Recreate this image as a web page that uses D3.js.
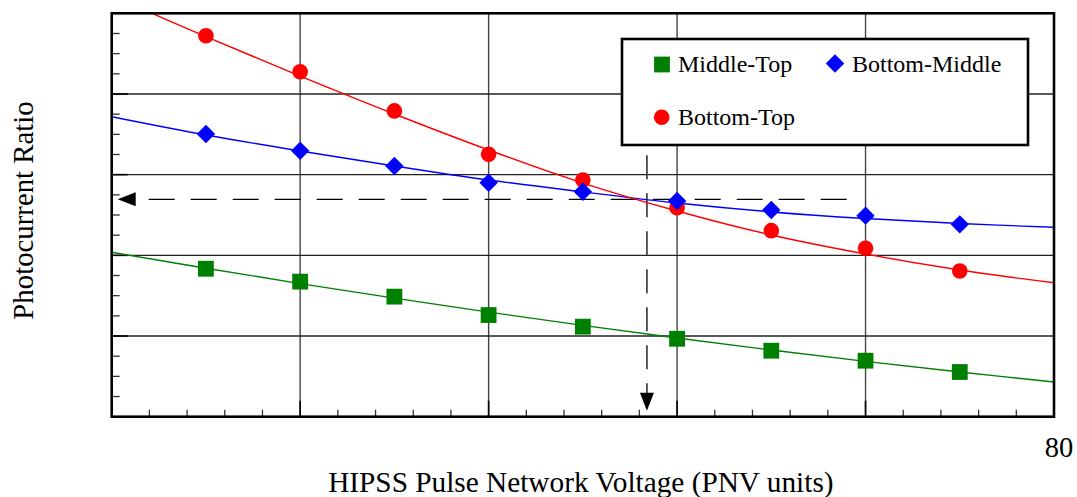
<!DOCTYPE html>
<html><head><meta charset="utf-8">
<script src="https://cdn.jsdelivr.net/npm/d3@7"></script>
<style>
html,body{margin:0;padding:0;background:#fff;}
svg{display:block;font-family:"Liberation Serif","Times New Roman",serif;}
</style></head>
<body><svg id="chart" width="1077" height="497"></svg>
<script>
// ---- data ----
const xValues = [35, 40, 45, 50, 55, 60, 65, 70, 75];
const middleTop    = [0.917, 0.837, 0.744, 0.630, 0.558, 0.483, 0.409, 0.347, 0.277];
const bottomMiddle = [1.752, 1.648, 1.554, 1.450, 1.394, 1.337, 1.281, 1.246, 1.192];
const bottomTop    = [2.361, 2.138, 1.895, 1.626, 1.467, 1.295, 1.153, 1.044, 0.903];
const fitX = [30, 35, 40, 45, 50, 55, 60, 65, 70, 75, 80];
const fitMiddleTop    = [1.019, 0.920, 0.825, 0.735, 0.648, 0.566, 0.488, 0.413, 0.343, 0.277, 0.215];
const fitBottomMiddle = [1.859, 1.746, 1.647, 1.554, 1.467, 1.393, 1.324, 1.269, 1.228, 1.197, 1.174];
const fitBottomTop    = [2.610, 2.355, 2.111, 1.876, 1.653, 1.448, 1.275, 1.126, 1.008, 0.909, 0.830];
const seriesNames = ["Middle-Top", "Bottom-Middle", "Bottom-Top"];
const xTickLabels = [{v: 80, t: "80"}];
const xMajor = [40, 50, 60, 70];
const yMajor = [0.5, 1.0, 1.5, 2.0];
const guideX = 58.4, guideY = 1.347, guideXStart = 69.0, guideYStart = 1.62;

// ---- layout ----
const svg = d3.select("#chart");
const L = 111.7, T = 13.3, R = 1054, B = 416.7;
const x = d3.scaleLinear().domain([30, 80]).range([L, R]);
const y = d3.scaleLinear().domain([0, 2.5]).range([B, T]);

const defs = svg.append("defs");
defs.append("clipPath").attr("id", "clip").append("rect")
  .attr("x", L).attr("y", T).attr("width", R - L).attr("height", B - T);

// gridlines
svg.append("g").selectAll("line").data(xMajor).join("line")
  .attr("x1", d => x(d)).attr("x2", d => x(d)).attr("y1", T).attr("y2", B)
  .attr("stroke", "#444").attr("stroke-width", 1.4);
svg.append("g").selectAll("line").data(yMajor).join("line")
  .attr("x1", L).attr("x2", R).attr("y1", d => y(d)).attr("y2", d => y(d))
  .attr("stroke", "#222").attr("stroke-width", 1.4);

// minor ticks
const xMinor = d3.range(32, 80, 2).filter(v => v % 10 !== 0);
svg.append("g").selectAll("line").data(xMinor).join("line")
  .attr("x1", d => x(d)).attr("x2", d => x(d)).attr("y1", B - 7).attr("y2", B)
  .attr("stroke", "#333").attr("stroke-width", 1.3);
const yMinor = d3.range(0.125, 2.5, 0.125).filter(v => Math.abs(v * 2 - Math.round(v * 2)) > 1e-6);
svg.append("g").selectAll("line").data(yMinor).join("line")
  .attr("x1", L).attr("x2", L + 8).attr("y1", d => y(d)).attr("y2", d => y(d))
  .attr("stroke", "#333").attr("stroke-width", 1.3);
// major tick marks (darker)
svg.append("g").selectAll("line").data(xMajor).join("line")
  .attr("x1", d => x(d)).attr("x2", d => x(d)).attr("y1", B - 16).attr("y2", B)
  .attr("stroke", "#000").attr("stroke-width", 1.6);
svg.append("g").selectAll("line").data(yMajor).join("line")
  .attr("x1", L).attr("x2", L + 16).attr("y1", d => y(d)).attr("y2", d => y(d))
  .attr("stroke", "#000").attr("stroke-width", 1.6);

// guide dashed lines
svg.append("line")
  .attr("x1", x(guideXStart)).attr("x2", x(30) + 24).attr("y1", y(guideY)).attr("y2", y(guideY))
  .attr("stroke", "#000").attr("stroke-width", 1.4).attr("stroke-dasharray", "26,16");
svg.append("path")
  .attr("d", `M${x(30) + 6},${y(guideY)} L${x(30) + 24},${y(guideY) - 7} L${x(30) + 24},${y(guideY) + 7} Z`)
  .attr("fill", "#000");
svg.append("line")
  .attr("x1", x(guideX)).attr("x2", x(guideX)).attr("y1", y(guideYStart)).attr("y2", B - 22)
  .attr("stroke", "#333").attr("stroke-width", 1.6).attr("stroke-dasharray", "24,14");
svg.append("path")
  .attr("d", `M${x(guideX)},${B - 6} L${x(guideX) - 7},${B - 24} L${x(guideX) + 7},${B - 24} Z`)
  .attr("fill", "#000");

// fit curves
const colors = ["#008000", "#0000ff", "#ff0000"];
const fits = [fitMiddleTop, fitBottomMiddle, fitBottomTop];
const line = d3.line().x(d => x(d[0])).y(d => y(d[1])).curve(d3.curveCatmullRom);
const gFit = svg.append("g").attr("clip-path", "url(#clip)");
fits.forEach((f, i) => {
  gFit.append("path").attr("d", line(fitX.map((xv, j) => [xv, f[j]])))
    .attr("fill", "none").attr("stroke", colors[i]).attr("stroke-width", 1.4);
});

// markers
const symSquare = d3.symbol().type(d3.symbolSquare).size(250);
const symDiamond = d3.symbol().type(d3.symbolSquare).size(170);
const gM = svg.append("g");
gM.selectAll(".sq").data(xValues.map((xv, i) => [xv, middleTop[i]])).join("path")
  .attr("d", symSquare()).attr("transform", d => `translate(${x(d[0])},${y(d[1])})`)
  .attr("fill", colors[0]);
gM.selectAll(".ci").data(xValues.map((xv, i) => [xv, bottomTop[i]])).join("circle")
  .attr("cx", d => x(d[0])).attr("cy", d => y(d[1])).attr("r", 7.8)
  .attr("fill", colors[2]);
gM.selectAll(".dm").data(xValues.map((xv, i) => [xv, bottomMiddle[i]])).join("path")
  .attr("d", symDiamond()).attr("transform", d => `translate(${x(d[0])},${y(d[1])}) rotate(45)`)
  .attr("fill", colors[1]);

// frame
svg.append("rect").attr("x", L).attr("y", T).attr("width", R - L).attr("height", B - T)
  .attr("fill", "none").attr("stroke", "#000").attr("stroke-width", 2.6);

// x tick label
svg.append("g").selectAll("text").data(xTickLabels).join("text")
  .attr("x", d => x(d.v) + 5).attr("y", 457).attr("text-anchor", "middle")
  .attr("font-size", 28.5).attr("fill", "#000").text(d => d.t);

// axis titles
svg.append("text").attr("x", (L + R) / 2 - 2).attr("y", 492).attr("text-anchor", "middle")
  .attr("font-size", 29.3).attr("fill", "#000").text("HIPSS Pulse Network Voltage (PNV units)");
svg.append("text").attr("transform", "translate(33,210.5) rotate(-90)").attr("text-anchor", "middle")
  .attr("font-size", 28.8).attr("fill", "#000").text("Photocurrent Ratio");

// legend
const lg = svg.append("g");
lg.append("rect").attr("x", 622).attr("y", 39).attr("width", 406).attr("height", 106)
  .attr("fill", "#fff").attr("stroke", "#000").attr("stroke-width", 2.6);
const legItems = [
  {name: seriesNames[0], cx: 662, cy: 64.5, tx: 678, ty: 72, kind: "sq"},
  {name: seriesNames[1], cx: 835, cy: 63.5, tx: 852, ty: 72, kind: "dm"},
  {name: seriesNames[2], cx: 661.7, cy: 117.3, tx: 678, ty: 125, kind: "ci"}
];
legItems.forEach((it) => {
  if (it.kind === "sq") lg.append("path").attr("d", symSquare()).attr("transform", `translate(${it.cx},${it.cy})`).attr("fill", colors[0]);
  else if (it.kind === "dm") lg.append("path").attr("d", symDiamond()).attr("transform", `translate(${it.cx},${it.cy}) rotate(45)`).attr("fill", colors[1]);
  else lg.append("circle").attr("cx", it.cx).attr("cy", it.cy).attr("r", 7.8).attr("fill", colors[2]);
  lg.append("text").attr("x", it.tx).attr("y", it.ty).attr("font-size", 24).attr("fill", "#000").text(it.name);
});
</script></body></html>
